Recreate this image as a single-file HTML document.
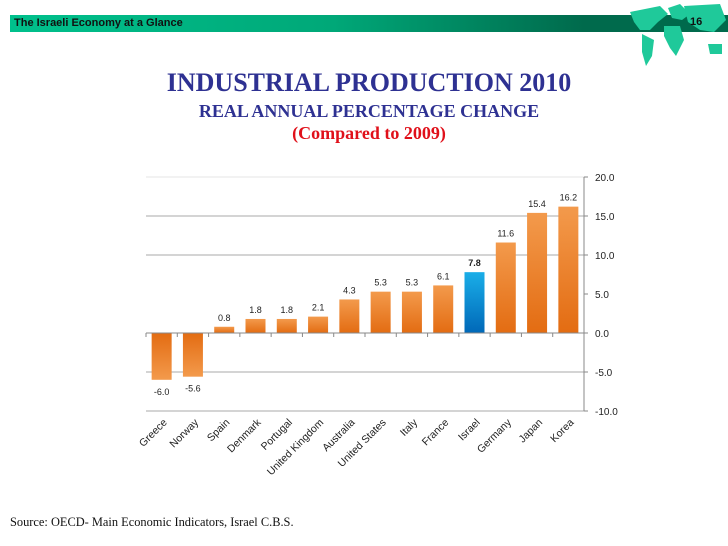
<!DOCTYPE html>
<html><head><meta charset="utf-8"><style>
body{margin:0;width:728px;height:546px;background:#fff;position:relative;overflow:hidden;font-family:"Liberation Sans",sans-serif}
#hdr{position:absolute;left:10px;top:15px;width:718px;height:17px;background:linear-gradient(90deg,#00c08c 0%,#00a878 45%,#006a4c 80%,#006a4c 100%)}
#hdr span{position:absolute;left:4px;top:2px;font-size:11px;font-weight:bold;color:#111}
#pg{position:absolute;left:690px;top:16px;font-size:11px;font-weight:bold;color:#111}
.t{position:absolute;width:728px;left:5px;text-align:center;font-family:"Liberation Serif",serif;font-weight:bold}
</style></head><body>
<div id="hdr"><span>The Israeli Economy at a Glance</span></div>
<svg style="position:absolute;left:600px;top:0" width="128" height="70">
<g fill="#1fc99a">
<path d="M30 12 L60 6 L68 14 L58 22 L50 30 L40 30 L34 22Z"/>
<path d="M42 34 L54 40 L52 56 L46 66 L42 52Z"/>
<path d="M68 8 L80 4 L90 14 L82 20 L72 18Z"/>
<path d="M64 26 L80 26 L84 40 L76 56 L70 48 L64 36Z"/>
<path d="M84 6 L120 4 L126 20 L114 32 L100 30 L88 22Z"/>
<path d="M108 44 L122 44 L122 54 L110 54Z"/>
</g></svg>
<div id="pg">16</div>
<div class="t" style="top:68px;font-size:26px;color:#2e3192">INDUSTRIAL PRODUCTION 2010</div>
<div class="t" style="top:101px;font-size:18px;color:#2e3192">REAL ANNUAL PERCENTAGE CHANGE</div>
<div class="t" style="top:123px;font-size:18px;color:#e0101a">(Compared to 2009)</div>
<svg id="chart" style="position:absolute;left:0;top:0" width="728" height="546"></svg>
<div style="position:absolute;left:10px;top:515px;font-family:'Liberation Serif',serif;font-size:12.4px;color:#111">Source: OECD- Main Economic Indicators, Israel C.B.S.</div>
<script>
const categories=["Greece","Norway","Spain","Denmark","Portugal","United Kingdom","Australia","United States","Italy","France","Israel","Germany","Japan","Korea"];
const values=[-6.0,-5.6,0.8,1.8,1.8,2.1,4.3,5.3,5.3,6.1,7.8,11.6,15.4,16.2];
const ticks=[20,15,10,5,0,-5,-10];
const tickLabels=["20.0","15.0","10.0","5.0","0.0","-5.0","-10.0"];
const highlight="Israel";
const svg=document.getElementById('chart');
const NS="http://www.w3.org/2000/svg";
const L=146,R=584,yMin=-10,yMax=20,yTop=177,yBot=411;
const y=v=>yBot-(v-yMin)/(yMax-yMin)*(yBot-yTop);
const bw=(R-L)/categories.length;
const xc=i=>L+bw*(i+0.5);
function mk(t,a){const e=document.createElementNS(NS,t);for(const k in a)e.setAttribute(k,a[k]);svg.appendChild(e);return e;}
const defs=mk('defs',{});
defs.innerHTML='<linearGradient id="go" x1="0" y1="0" x2="0" y2="1"><stop offset="0" stop-color="#f39a4c"/><stop offset="1" stop-color="#e36c12"/></linearGradient><linearGradient id="gn" x1="0" y1="0" x2="0" y2="1"><stop offset="0" stop-color="#e36c12"/><stop offset="1" stop-color="#f39a4c"/></linearGradient><linearGradient id="gb" x1="0" y1="0" x2="0" y2="1"><stop offset="0" stop-color="#1aaee8"/><stop offset="1" stop-color="#0068b8"/></linearGradient>';
ticks.forEach((t,i)=>{
 if(t!==0 && t!==5){const g=mk('line',{x1:L,x2:R,y1:y(t),y2:y(t),stroke:t===20?'#e4e4e4':'#a8a8a8','stroke-width':1});
 
 }
 const tl=mk('text',{x:R+11,y:y(t)+4,'font-size':10,fill:'#222','font-family':'Liberation Sans, sans-serif'});
 tl.textContent=tickLabels[i];
 
 
 const tk=mk('line',{x1:R,x2:R+4,y1:y(t),y2:y(t),stroke:'#888'});
 
 
});
const ax=mk('line',{x1:R,x2:R,y1:yTop,y2:yBot,stroke:'#888'});


values.forEach((v,i)=>{
 const c=categories[i];
 const y0=y(0),y1=y(v);
 const r=mk('rect',{x:xc(i)-10,y:Math.min(y0,y1),width:20,height:Math.abs(y1-y0),fill:c===highlight?'url(#gb)':(v<0?'url(#gn)':'url(#go)')});
 
 
 const lb=mk('text',{x:xc(i),y:v<0?y1+15:y1-6,'text-anchor':'middle','font-size':9,fill:'#222','font-weight':c===highlight?'bold':'normal'});
 lb.textContent=v.toFixed(1);
 
 
 const cl=mk('text',{x:xc(i)+6,y:423,'text-anchor':'end','font-size':10.5,fill:'#222',transform:`rotate(-45 ${xc(i)+6} 423)`});
 cl.textContent=c;
 
 
});
for(let i=0;i<=categories.length;i++){const tk=mk('line',{x1:L+bw*i,x2:L+bw*i,y1:y(0),y2:y(0)+4,stroke:'#888'});
 
 }
const zl=mk('line',{x1:L,x2:R,y1:y(0),y2:y(0),stroke:'#888'});


</script>
</body></html>
